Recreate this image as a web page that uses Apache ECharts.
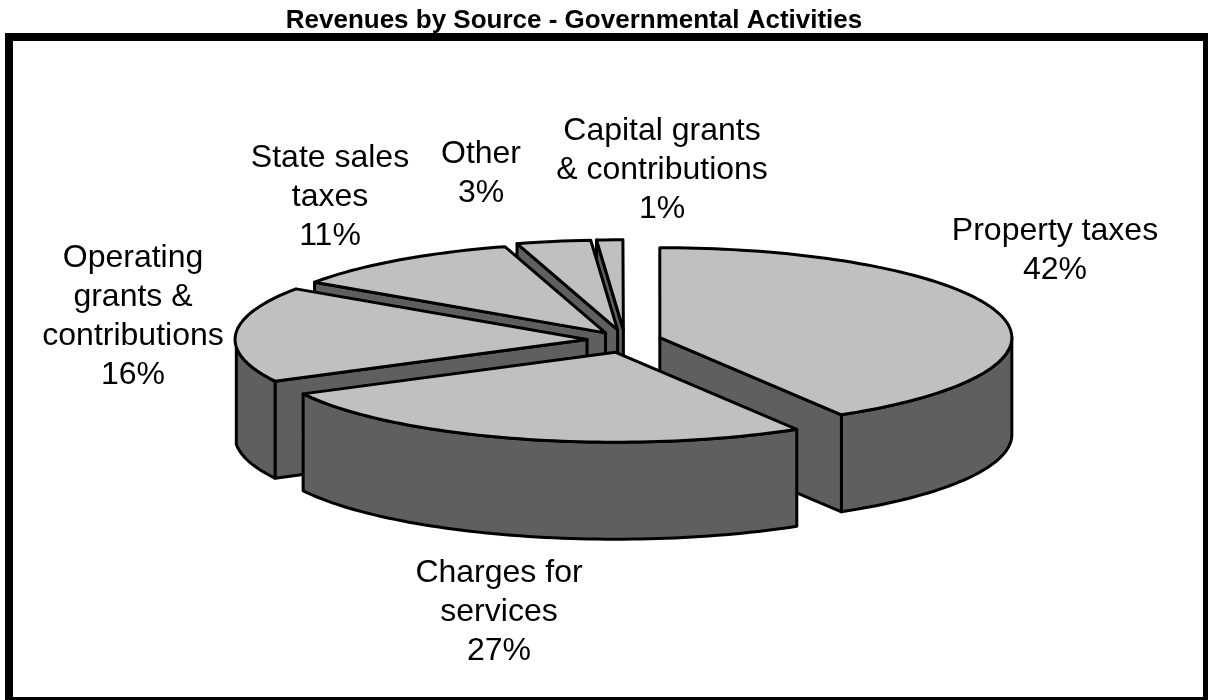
<!DOCTYPE html>
<html><head><meta charset="utf-8">
<style>html,body{margin:0;padding:0;background:#fff}#c{width:1208px;height:700px}</style>
<script src="https://cdn.jsdelivr.net/npm/echarts@6/dist/echarts.min.js"></script>
</head><body><div id="c"></div>
<script>
const categories = ['Property taxes','Charges for\nservices','Operating\ngrants &\ncontributions','State sales\ntaxes','Other','Capital grants\n& contributions'];
const shares = [42,27,16,11,3,1];
const explode = [36,38,38,34,40,40];
const drawOrder = [5,4,3,2,0,1];
const labelAnchors = [[1055,251],[499,612],[133,317],[330,197],[481,174],[662,170]];

const CX=625, CY=340, RX=352, RY=90, DEPTH=97;
const total = shares.reduce((a,b)=>a+b,0);
const warp = t => {
  const w = t<245 ? 95 : 55;
  const backFade = t<358 ? 1 : (360-t)/2;
  return t - 6*Math.exp(-Math.pow((t-245)/w,2)) - 2*backFade*Math.exp(-Math.pow((t-345)/11,2));
};
const rad = d => d*Math.PI/180;
const ring = (o,t,drop) => [o[0]+RX*Math.sin(rad(warp(t))), o[1]-RY*Math.cos(rad(warp(t)))+(drop||0)];
const INK = {stroke:'#000',lineWidth:3,lineJoin:'round'};
const TOP='#C0C0C0', SIDE='#5F5F5F';

function renderItem(params, api){
  const i = params.dataIndex;
  let start = 0; for(let k=0;k<i;k++) start += shares[k]/total*360;
  const end = start + api.value(0)/total*360;
  const mid = warp((start+end)/2);
  const c = Math.cos(rad(mid));
  const o = [CX+explode[i]*Math.sin(rad(mid)), CY-explode[i]*RY/RX*c*(c<0?1.3:1)];
  const z = drawOrder.indexOf(i)*10;
  const poly = (pts,fill,zz)=>({type:'polygon',z2:z+zz,shape:{points:pts},style:Object.assign({fill},INK)});
  const kids = [];
  const wallFace = t => { const a=ring(o,t), b=ring(o,t,DEPTH);
    return [o,a,b,[o[0],o[1]+DEPTH]]; };
  if(warp(start)>=180) kids.push(poly(wallFace(start),SIDE,1));
  if(warp(end)<=180) kids.push(poly(wallFace(end),SIDE,1));
  const s0=Math.max(start,90), s1=Math.min(end,270);
  if(s1>s0){
    const upper=[],lower=[]; const n=Math.ceil((s1-s0)/1.5);
    for(let k=0;k<=n;k++){ const t=s0+(s1-s0)*k/n; upper.push(ring(o,t)); lower.unshift(ring(o,t,DEPTH)); }
    kids.push(poly(upper.concat(lower),SIDE,2));
  }
  const topPts=[o]; const n=Math.max(2,Math.ceil((end-start)/1.5));
  for(let k=0;k<=n;k++) topPts.push(ring(o,start+(end-start)*k/n));
  kids.push(poly(topPts,TOP,3));
  kids.push({type:'text',z2:200,style:{
    x:labelAnchors[i][0],y:labelAnchors[i][1],
    text:categories[i]+'\n'+api.value(0)+'%',
    fill:'#000',font:'32px "Liberation Sans", Arial, sans-serif',
    lineHeight:39,align:'center',verticalAlign:'middle'}});
  return {type:'group',children:kids};
}

const chart = echarts.init(document.getElementById('c'),null,{renderer:'canvas'});
chart.setOption({
  animation:false,
  backgroundColor:'#fff',
  title:{text:'Revenues by Source - Governmental Activities',left:569,top:3,textAlign:'center',
    textStyle:{fontFamily:'"Liberation Sans", Arial, sans-serif',fontWeight:'bold',fontSize:26,color:'#000'}},
  graphic:[{type:'rect',shape:{x:9,y:37,width:1198,height:664},style:{fill:'none',stroke:'#000',lineWidth:8},silent:true}],
  series:[{type:'custom',coordinateSystem:'none',renderItem,data:shares.map((v,i)=>({name:categories[i],value:[v]}))}]
});
</script></body></html>
